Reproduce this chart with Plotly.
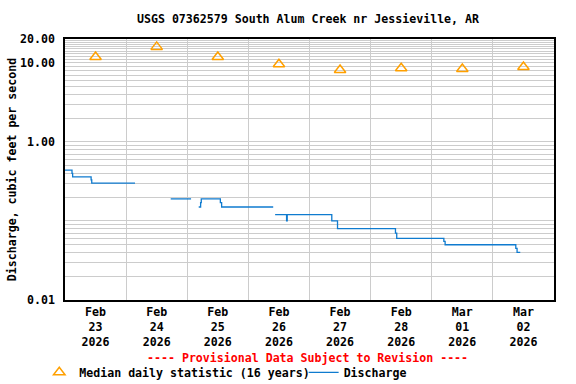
import plotly.graph_objects as go

# ---- data ----
median_dates = ["2026-02-23 12:00", "2026-02-24 12:00", "2026-02-25 12:00", "2026-02-26 12:00",
                "2026-02-27 12:00", "2026-02-28 12:00", "2026-03-01 12:00", "2026-03-02 12:00"]
median_values = [11.85, 15.9, 11.85, 9.6, 8.1, 8.55, 8.35, 8.85]

q_times = ["2026-02-23 00:00", "2026-02-23 02:45", "2026-02-23 03:00", "2026-02-23 10:15",
           "2026-02-23 10:30", "2026-02-24 03:30", "2026-02-24 10:00",
           "2026-02-24 17:30", "2026-02-25 01:30", "2026-02-25 03:00",
           "2026-02-25 04:30", "2026-02-25 05:15", "2026-02-25 05:30", "2026-02-25 13:00",
           "2026-02-25 13:30", "2026-02-26 09:45", "2026-02-26 10:00",
           "2026-02-26 10:30", "2026-02-26 15:00", "2026-02-26 15:15", "2026-02-27 08:45",
           "2026-02-27 11:00", "2026-02-28 09:45", "2026-02-28 10:15", "2026-03-01 04:45",
           "2026-03-01 05:15", "2026-03-02 09:00", "2026-03-02 09:30", "2026-03-02 10:45"]
q_values = [0.44, 0.40, 0.36, 0.33,
            0.30, 0.30, None,
            0.19, 0.19, None,
            0.15, 0.17, 0.19, 0.17,
            0.15, 0.15, None,
            0.12, 0.10, 0.12, 0.10,
            0.08, 0.07, 0.06, 0.055,
            0.05, 0.045, 0.04, 0.04]

x_tick_vals = median_dates
x_tick_text = ["Feb<br>23<br>2026", "Feb<br>24<br>2026", "Feb<br>25<br>2026", "Feb<br>26<br>2026",
               "Feb<br>27<br>2026", "Feb<br>28<br>2026", "Mar<br>01<br>2026", "Mar<br>02<br>2026"]
day_bounds = ["2026-02-24", "2026-02-25", "2026-02-26", "2026-02-27",
              "2026-02-28", "2026-03-01", "2026-03-02"]
y_tick_vals = [0.01, 1, 10, 20]
y_tick_text = ["0.01", "1.00", "10.00", "20.00"]
y_minor_vals = ([k * 0.01 for k in range(2, 10)] + [k * 0.1 for k in range(1, 10)]
                + [k * 1.0 for k in range(2, 10)] + [float(k) for k in range(11, 20)])

FONT = "DejaVu Sans Mono"
FS = 11.6
GRID = "#cccccc"

fig = go.Figure()
fig.add_trace(go.Scatter(
    x=median_dates, y=median_values, mode="markers",
    name="Median daily statistic (16 years)",
    marker=dict(symbol="triangle-up-open", size=10, color="#ffa000", line=dict(width=1.5, color="#ffa000")),
    legend="legend",
))
fig.add_trace(go.Scatter(
    x=q_times, y=q_values, mode="lines", name="Discharge",
    line=dict(shape="hv", color="#0f7bcf", width=1.3),
    connectgaps=False,
    legend="legend2",
))

fig.update_layout(
    width=576, height=384,
    margin=dict(l=65, r=22, t=39, b=84, autoexpand=False),
    paper_bgcolor="white", plot_bgcolor="white",
    font=dict(family=FONT, size=FS, color="black", weight="bold"),
    title=dict(text="USGS 07362579 South Alum Creek nr Jessieville, AR",
               x=308 / 576, xref="container", xanchor="center",
               y=1 - 19 / 384, yref="container", yanchor="middle",
               automargin=False,
               font=dict(family=FONT, size=FS, weight="bold", color="black")),
    legend=dict(orientation="h", x=-0.0526, xanchor="left", y=-0.277, yanchor="middle",
                font=dict(family=FONT, size=FS, weight="bold"), bgcolor="rgba(0,0,0,0)",
                borderwidth=0),
    legend2=dict(orientation="h", x=0.488, xanchor="left", y=-0.277, yanchor="middle",
                 font=dict(family=FONT, size=FS, weight="bold"), bgcolor="rgba(0,0,0,0)",
                 borderwidth=0),
    showlegend=True,
)

fig.update_xaxes(
    type="date", range=["2026-02-23 00:00", "2026-03-03 00:00"],
    tickmode="array", tickvals=x_tick_vals, ticktext=x_tick_text,
    ticks="", showgrid=False, automargin=False,
    minor=dict(tickmode="array", tickvals=day_bounds, showgrid=True, gridcolor=GRID, gridwidth=1, ticks=""),
    showline=True, linecolor="black", linewidth=1.5, mirror=True,
    tickfont=dict(family=FONT, size=FS, weight="bold"),
    zeroline=False,
)
fig.update_yaxes(
    type="log", range=[-2, 1.30103],
    tickmode="array", tickvals=y_tick_vals, ticktext=y_tick_text,
    ticks="", showgrid=True, gridcolor=GRID, gridwidth=1, automargin=False,
    minor=dict(tickmode="array", tickvals=y_minor_vals, showgrid=True, gridcolor=GRID, gridwidth=1, ticks=""),
    showline=True, linecolor="black", linewidth=1.5, mirror=True,
    tickfont=dict(family=FONT, size=FS, weight="bold"),
    ticklabelstandoff=6,
    title=dict(text="Discharge, cubic feet per second", standoff=1,
               font=dict(family=FONT, size=FS, weight="bold")),
    zeroline=False,
)

fig.add_annotation(
    text="---- Provisional Data Subject to Revision ----",
    xref="paper", yref="paper", x=0.496, y=-0.223, xanchor="center", yanchor="middle",
    showarrow=False, font=dict(family=FONT, size=FS, weight="bold", color="red"),
)

fig.write_html("out.html", config={"displayModeBar": False},
               post_script="document.body.style.margin='0';")
